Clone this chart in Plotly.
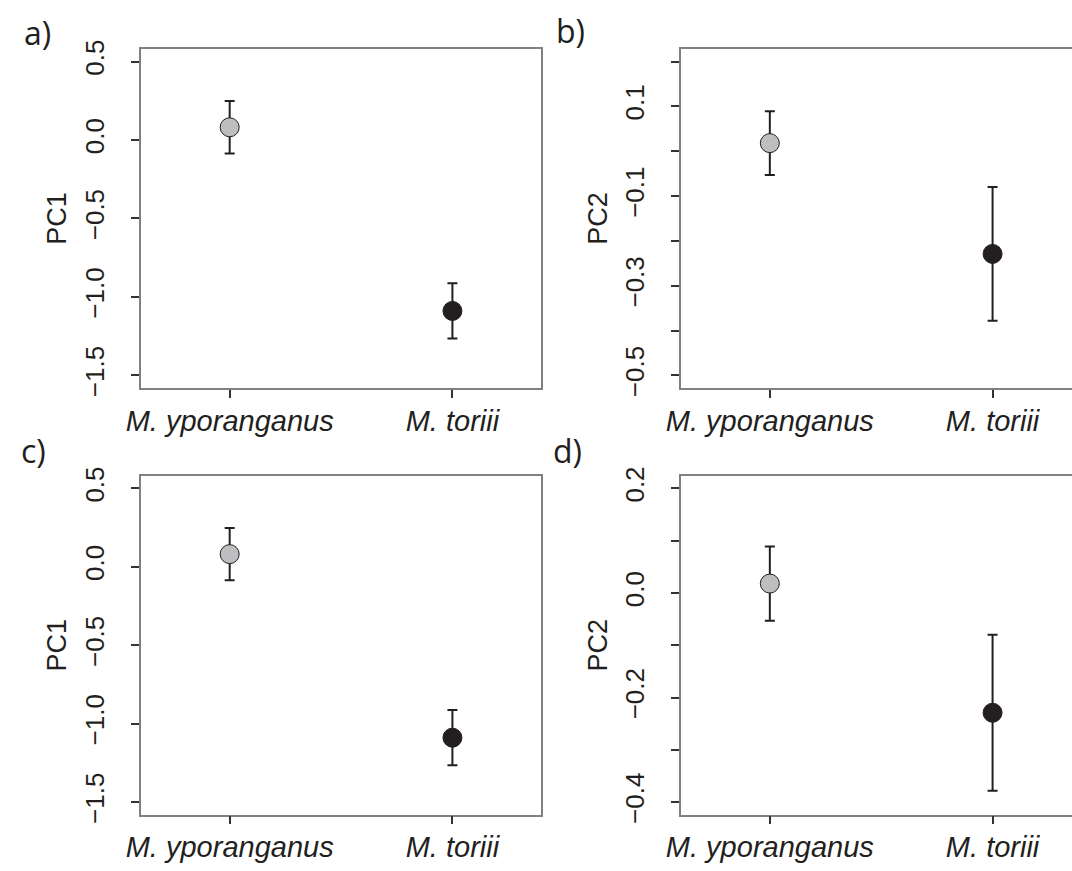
import plotly.graph_objects as go

# ---- data ----
species = ["M. yporanganus", "M. toriii"]
species_x = [1, 2]
pc1_mean = [0.081, -1.089]
pc1_err = [0.167, 0.176]
pc2_mean = [0.018, -0.229]
pc2_err = [0.071, 0.149]
point_colors = ["#BCBEC0", "#231F20"]

pc1_ticks = [0.5, 0.0, -0.5, -1.0, -1.5]
pc1_ticktext = ["0.5", "0.0", "−0.5", "−1.0", "−1.5"]
pc2b_ticks = [0.2, 0.1, 0.0, -0.1, -0.2, -0.3, -0.4, -0.5]
pc2b_ticktext = ["", "0.1", "", "−0.1", "", "−0.3", "", "−0.5"]
pc2d_ticks = [0.2, 0.1, 0.0, -0.1, -0.2, -0.3, -0.4]
pc2d_ticktext = ["0.2", "", "0.0", "", "−0.2", "", "−0.4"]
panel_labels = ["a)", "b)", "c)", "d)"]

W, H = 1072, 871
FONT = "Liberation Sans, Arial, Helvetica, sans-serif"
INK = "#231F20"
BOX = "#808080"

fig = go.Figure()

# layout geometry in pixels
left_x = (128.7, 533.5)
right_x = (676.0, 1072.0)
top_y = (40.8, 387.0)
bot_y = (476.7, 822.7)
px_per_cat = 225.7

panels = [
    dict(xd=left_x, yd=top_y, mean=pc1_mean, err=pc1_err, yr=[-1.58, 0.58],
         tv=pc1_ticks, tt=pc1_ticktext, title="PC1", mirror=True),
    dict(xd=right_x, yd=top_y, mean=pc2_mean, err=pc2_err, yr=[-0.528, 0.228],
         tv=pc2b_ticks, tt=pc2b_ticktext, title="PC2", mirror=False),
    dict(xd=left_x, yd=bot_y, mean=pc1_mean, err=pc1_err, yr=[-1.58, 0.58],
         tv=pc1_ticks, tt=pc1_ticktext, title="PC1", mirror=True),
    dict(xd=right_x, yd=bot_y, mean=pc2_mean, err=pc2_err, yr=[-0.424, 0.224],
         tv=pc2d_ticks, tt=pc2d_ticktext, title="PC2", mirror=False),
]

label_pos = [(8, 24), (547, 22), (5, 451), (544, 451)]

for i, p in enumerate(panels):
    n = i + 1
    xa = "x" if n == 1 else f"x{n}"
    ya = "y" if n == 1 else f"y{n}"
    fig.add_trace(go.Scatter(
        x=species_x, y=p["mean"], mode="markers",
        xaxis=xa, yaxis=ya, showlegend=False, hoverinfo="skip",
        marker=dict(size=19, color=point_colors, line=dict(color=INK, width=1)),
        error_y=dict(type="data", array=p["err"], color=INK, thickness=2, width=5),
    ))
    x0, x1 = p["xd"]
    xr0 = 0.602
    xr1 = xr0 + (x1 - x0) / px_per_cat
    y0, y1 = p["yd"]
    xkey = "xaxis" if n == 1 else f"xaxis{n}"
    ykey = "yaxis" if n == 1 else f"yaxis{n}"
    fig.update_layout(**{
        xkey: dict(
            domain=[x0 / W, min(x1 / W, 1.0)], anchor=ya, range=[xr0, xr1],
            tickvals=species_x, ticktext=[f"<i>{s}</i>" for s in species],
            tickfont=dict(family=FONT, size=29, color=INK),
            ticks="outside", ticklen=8, tickwidth=1.5, tickcolor="#333333",
            ticklabelstandoff=-2,
            showline=True, linecolor=BOX, linewidth=1.5, mirror=True,
            showgrid=False, zeroline=False, fixedrange=True,
        ),
        ykey: dict(
            domain=[1 - y1 / H, 1 - y0 / H], anchor=xa, range=p["yr"],
            tickvals=p["tv"], ticktext=p["tt"], tickangle=-90,
            tickfont=dict(family=FONT, size=26, color=INK),
            ticks="outside", ticklen=8, tickwidth=1.5, tickcolor="#333333",
            ticklabelstandoff=17,
            title=dict(text=p["title"], font=dict(family=FONT, size=27, color=INK), standoff=5),
            showline=True, linecolor=BOX, linewidth=1.5, mirror=p["mirror"],
            showgrid=False, zeroline=False, fixedrange=True,
        ),
    })
    lx, ly = label_pos[i]
    fig.add_annotation(
        text=panel_labels[i], xref="paper", yref="paper",
        x=lx / W, y=1 - ly / H, xanchor="left", yanchor="middle",
        showarrow=False, font=dict(family="Open Sans, Noto Sans, sans-serif", size=32, color=INK),
    )

fig.update_layout(
    width=W, height=H, margin=dict(l=0, r=0, t=0, b=0),
    paper_bgcolor="white", plot_bgcolor="white",
)

fig.write_html(
    "out.html",
    config={"displayModeBar": False},
    post_script="document.body.style.margin='0';document.body.style.overflow='hidden';",
)
